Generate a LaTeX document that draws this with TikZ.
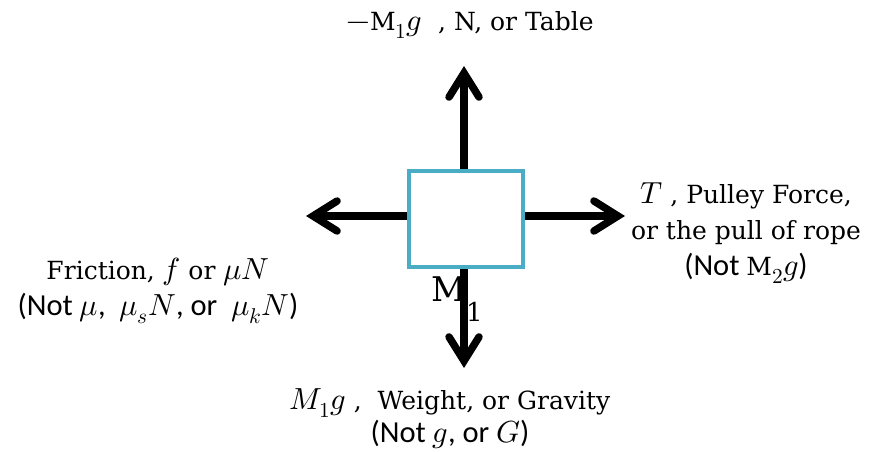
\documentclass[tikz,border=0pt]{standalone}
\usepackage{fontspec}
\usepackage{unicode-math}
\setmainfont{DejaVu Serif}
\setsansfont{Carlito}[Scale=1.22]
\setmathfont{Latin Modern Math}[Scale=1.22]
\usetikzlibrary{arrows.meta}
\definecolor{boxline}{HTML}{4BACC6}

\begin{document}
\begin{tikzpicture}[x=1pt,y=1pt,
        font=\fontsize{25}{36}\selectfont,
        block/.style={draw=boxline,line width=4pt,minimum width=114pt,minimum height=96pt},
        force/.style={line width=7.5pt,-{Straight Barb[length=24pt,width=30pt,line cap=round,line join=miter]}},
        lbl/.style={align=center,inner sep=0pt}
      ]
      \useasboundingbox (0,0) rectangle (871,-452);

      % the block and its mass
      \node[block] (blk) at (466,-219) {};
      \node[font=\fontsize{34}{34}\selectfont,inner sep=0pt,anchor=base west] (m1) at (431,-301)
        {M\raisebox{-20pt}{\fontsize{26}{26}\selectfont 1}};

      % where the forces point
      \coordinate (up) at (464,-66);
      \coordinate (dn) at (464,-368);
      \coordinate (lt) at (306,-216);
      \coordinate (rt) at (625,-216);

      \draw[force] (blk.north -| up) -- (up);
      \draw[force] (blk.south -| dn) -- (dn);
      \draw[force] (blk.west |- lt) -- (lt);
      \draw[force] (blk.east |- rt) -- (rt);

      % what each force is called
      \node[lbl] (normal) at (470,-25) {$-\mathrm{M}_1g$\ \ , N, or Table};
      \node[lbl] (tension) at (746,-233)
        {$T$ , Pulley Force,\\or the pull of rope\\{\sffamily (Not $\mathrm{M}_2g$)}};
      \node[lbl] (friction) at (158,-291)
        {Friction, $f$ or $\mu N$\\{\sffamily (Not $\mu$,\ \ $\mu_sN$, or\ \ $\mu_kN$)}};
      \node[lbl,font=\fontsize{25}{33}\selectfont] (weight) at (450,-419)
        {$M_1g$\ ,\ \ Weight, or Gravity\\{\sffamily (Not $g$, or $G$)}};
    \end{tikzpicture}
\end{document}
